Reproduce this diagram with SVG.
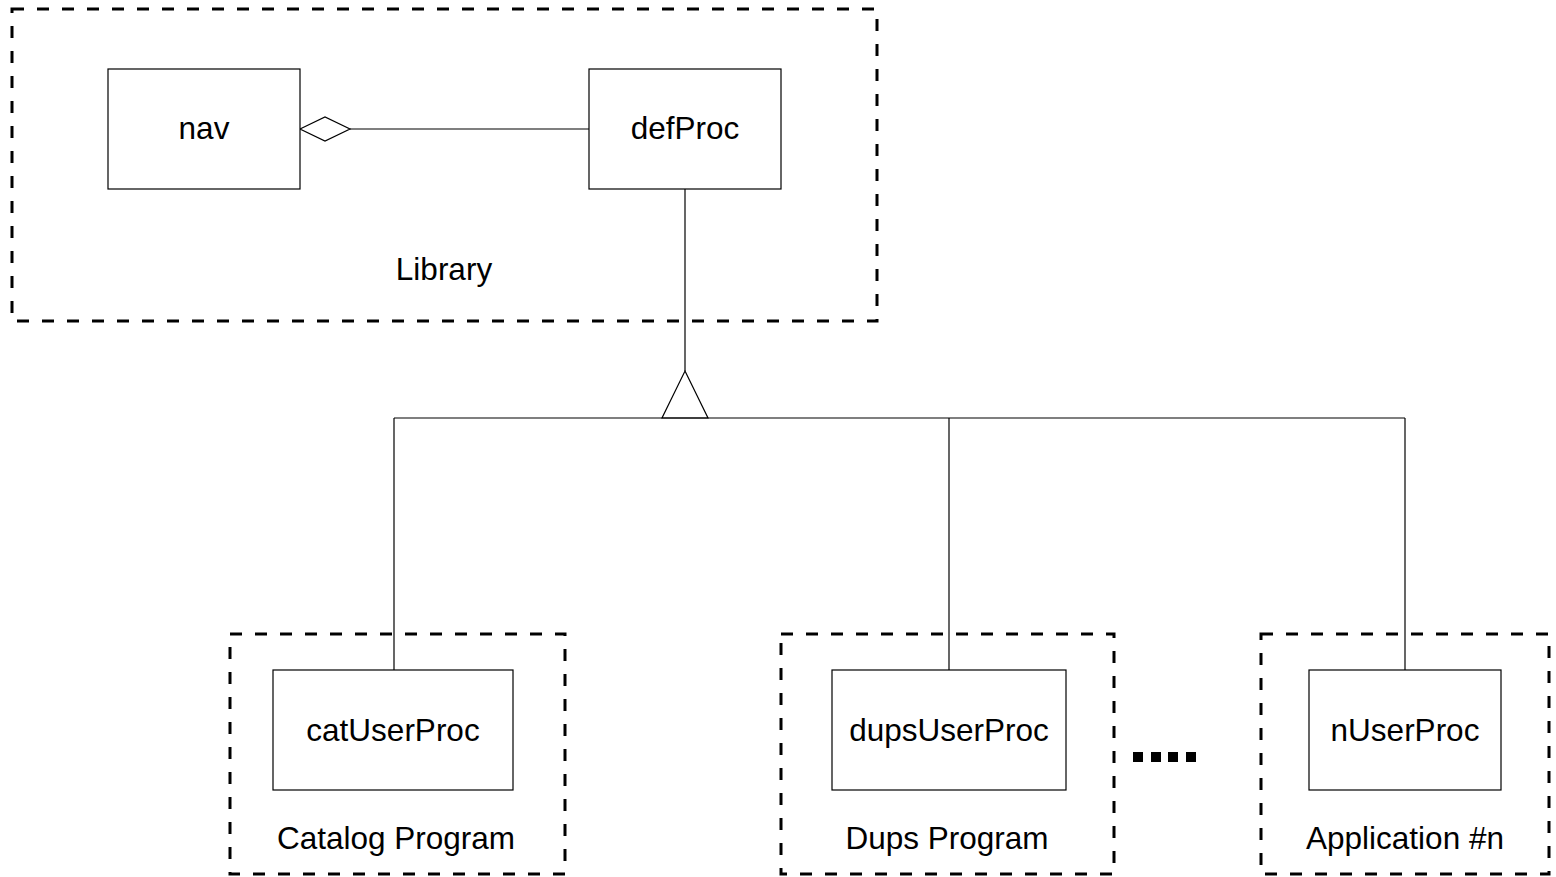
<svg xmlns="http://www.w3.org/2000/svg" width="1556" height="877" viewBox="0 0 1556 877">
<style>
.grp{fill:none;stroke:#000;stroke-width:3;stroke-dasharray:12 13}
.box{fill:#fff;stroke:#000;stroke-width:1.2}
.ln{fill:none;stroke:#000;stroke-width:1.2}
text{font-family:"Liberation Sans",Arial,sans-serif;font-size:31.5px;fill:#000;text-anchor:middle}
</style>
<rect width="1556" height="877" fill="#fff"/>
<g id="library"><rect class="grp" x="12" y="9" width="865" height="312"/><text x="444" y="280">Library</text></g>
<g id="catalog"><rect class="grp" x="230" y="634" width="335" height="240"/><text x="396" y="849">Catalog Program</text></g>
<g id="dups"><rect class="grp" x="781" y="634" width="333" height="240"/><text x="947" y="849">Dups Program</text></g>
<g id="appn"><rect class="grp" x="1261" y="634" width="288" height="240"/><text x="1405" y="849">Application #n</text></g>
<g id="connectors">
<line class="ln" x1="350" y1="129" x2="589" y2="129"/>
<polygon class="ln" points="300,129 325,117 350,129 325,141" fill="#fff"/>
<line class="ln" x1="685" y1="189" x2="685" y2="371"/>
<polygon class="ln" points="685,371 708,418 662,418"/>
<line class="ln" x1="394" y1="418" x2="1405" y2="418"/>
<line class="ln" x1="394" y1="418" x2="394" y2="670"/>
<line class="ln" x1="949" y1="418" x2="949" y2="670"/>
<line class="ln" x1="1405" y1="418" x2="1405" y2="670"/>
</g>
<g id="nav"><rect class="box" x="108" y="69" width="192" height="120"/><text x="204" y="139">nav</text></g>
<g id="defProc"><rect class="box" x="589" y="69" width="192" height="120"/><text x="685" y="139">defProc</text></g>
<g id="catUserProc"><rect class="box" x="273" y="670" width="240" height="120"/><text x="393" y="741">catUserProc</text></g>
<g id="dupsUserProc"><rect class="box" x="832" y="670" width="234" height="120"/><text x="949" y="741">dupsUserProc</text></g>
<g id="nUserProc"><rect class="box" x="1309" y="670" width="192" height="120"/><text x="1405" y="741">nUserProc</text></g>
<g id="ellipsis">
<rect x="1133" y="752" width="10" height="10"/><rect x="1151" y="752" width="10" height="10"/><rect x="1168" y="752" width="10" height="10"/><rect x="1186" y="752" width="10" height="10"/>
</g>
</svg>
